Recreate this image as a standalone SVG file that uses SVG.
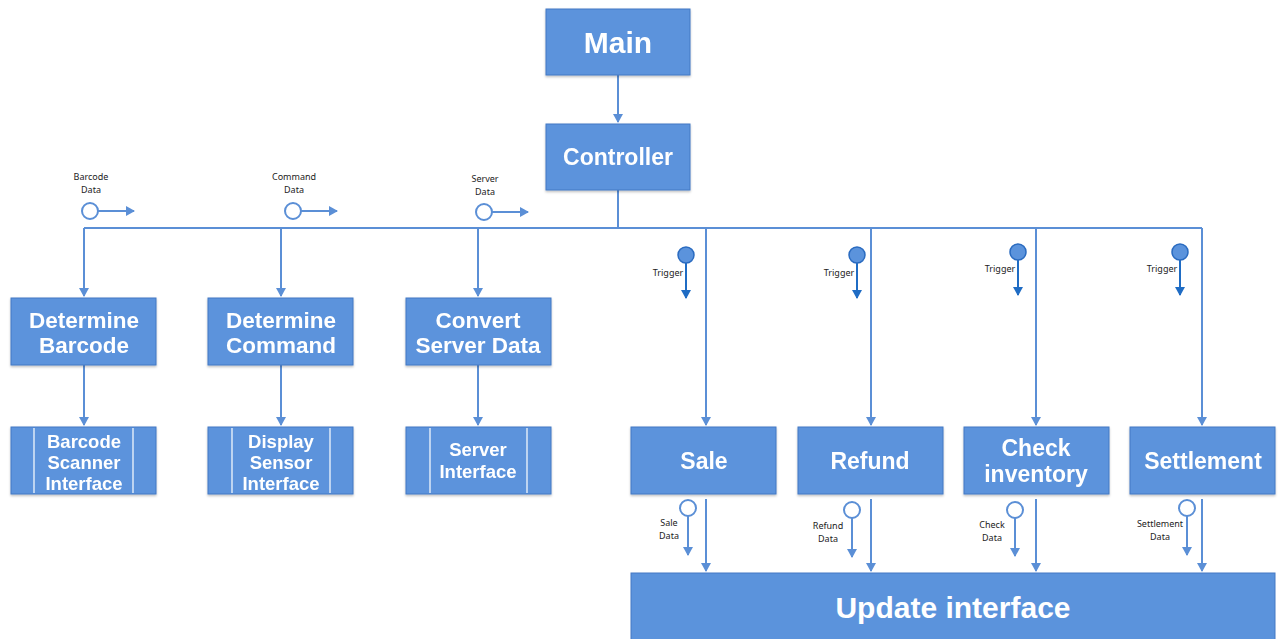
<svg xmlns="http://www.w3.org/2000/svg" width="1281" height="639" viewBox="0 0 1281 639">
<defs>
<style>
.box{fill:#5b93dc;stroke:#4579c4;stroke-width:1}
.t{fill:#fff;font-family:"Liberation Sans",Arial,sans-serif;font-weight:bold;text-anchor:middle}
.c{stroke:#5b8fd6;stroke-width:2;fill:none}
.d{stroke:#1f6cc4;stroke-width:2;fill:none}
.lbl{font-family:"Noto Sans","DejaVu Sans",sans-serif;font-size:9px;fill:#222;text-anchor:middle}
.oc{fill:#fff;stroke:#5b8fd6;stroke-width:2}
.fc{fill:#5b93dc;stroke:#2a6bc0;stroke-width:1.5}
.sep{stroke:#ffffff;stroke-width:1.2}
</style>
<marker id="a" markerWidth="10" markerHeight="10" refX="8" refY="5" orient="auto" markerUnits="userSpaceOnUse"><path d="M0,0 L9,5 L0,10 z" fill="#5b8fd6"/></marker>
<marker id="b" markerWidth="10" markerHeight="10" refX="8" refY="5" orient="auto" markerUnits="userSpaceOnUse"><path d="M0,0 L9,5 L0,10 z" fill="#1f6cc4"/></marker>
<filter id="sh" x="-5%" y="-5%" width="110%" height="115%"><feDropShadow dx="0" dy="1.5" stdDeviation="1" flood-color="#000" flood-opacity="0.25"/></filter>
</defs>

<g id="connectors">
<line class="c" x1="618" y1="75" x2="618" y2="122" marker-end="url(#a)"/>
<polyline class="c" points="618,190 618,228"/>
<line class="c" x1="84" y1="228" x2="1202" y2="228"/>
<line class="c" x1="84" y1="228" x2="84" y2="296" marker-end="url(#a)"/>
<line class="c" x1="281" y1="228" x2="281" y2="296" marker-end="url(#a)"/>
<line class="c" x1="478" y1="228" x2="478" y2="296" marker-end="url(#a)"/>
<line class="c" x1="706" y1="228" x2="706" y2="425" marker-end="url(#a)"/>
<line class="c" x1="871" y1="228" x2="871" y2="425" marker-end="url(#a)"/>
<line class="c" x1="1036" y1="228" x2="1036" y2="425" marker-end="url(#a)"/>
<line class="c" x1="1202" y1="228" x2="1202" y2="425" marker-end="url(#a)"/>
<line class="c" x1="84" y1="365" x2="84" y2="425" marker-end="url(#a)"/>
<line class="c" x1="281" y1="365" x2="281" y2="425" marker-end="url(#a)"/>
<line class="c" x1="478" y1="365" x2="478" y2="425" marker-end="url(#a)"/>
<line class="c" x1="706" y1="499" x2="706" y2="571" marker-end="url(#a)"/>
<line class="c" x1="871" y1="499" x2="871" y2="571" marker-end="url(#a)"/>
<line class="c" x1="1036" y1="499" x2="1036" y2="571" marker-end="url(#a)"/>
<line class="c" x1="1202" y1="499" x2="1202" y2="571" marker-end="url(#a)"/>
</g>

<g id="data-flows">
<line class="c" x1="98" y1="211" x2="134" y2="211" marker-end="url(#a)"/>
<circle class="oc" cx="90" cy="211" r="8"/>
<text class="lbl" x="91" y="180">Barcode</text><text class="lbl" x="91" y="193">Data</text>
<line class="c" x1="301" y1="211" x2="337" y2="211" marker-end="url(#a)"/>
<circle class="oc" cx="293" cy="211" r="8"/>
<text class="lbl" x="294" y="180">Command</text><text class="lbl" x="294" y="193">Data</text>
<line class="c" x1="492" y1="212" x2="528" y2="212" marker-end="url(#a)"/>
<circle class="oc" cx="484" cy="212" r="8"/>
<text class="lbl" x="485" y="182">Server</text><text class="lbl" x="485" y="195">Data</text>

<line class="d" x1="686" y1="263" x2="686" y2="298" marker-end="url(#b)"/>
<circle class="fc" cx="686" cy="255" r="8"/>
<text class="lbl" x="668" y="276">Trigger</text>
<line class="d" x1="857" y1="263" x2="857" y2="298" marker-end="url(#b)"/>
<circle class="fc" cx="857" cy="255" r="8"/>
<text class="lbl" x="839" y="276">Trigger</text>
<line class="d" x1="1018" y1="260" x2="1018" y2="295" marker-end="url(#b)"/>
<circle class="fc" cx="1018" cy="252" r="8"/>
<text class="lbl" x="1000" y="272">Trigger</text>
<line class="d" x1="1180" y1="260" x2="1180" y2="295" marker-end="url(#b)"/>
<circle class="fc" cx="1180" cy="252" r="8"/>
<text class="lbl" x="1162" y="272">Trigger</text>

<line class="c" x1="688" y1="516" x2="688" y2="555" marker-end="url(#a)"/>
<circle class="oc" cx="688" cy="508" r="8"/>
<text class="lbl" x="669" y="526">Sale</text><text class="lbl" x="669" y="539">Data</text>
<line class="c" x1="852" y1="518" x2="852" y2="557" marker-end="url(#a)"/>
<circle class="oc" cx="852" cy="510" r="8"/>
<text class="lbl" x="828" y="529">Refund</text><text class="lbl" x="828" y="542">Data</text>
<line class="c" x1="1015" y1="518" x2="1015" y2="556" marker-end="url(#a)"/>
<circle class="oc" cx="1015" cy="510" r="8"/>
<text class="lbl" x="992" y="528">Check</text><text class="lbl" x="992" y="541">Data</text>
<line class="c" x1="1187" y1="516" x2="1187" y2="555" marker-end="url(#a)"/>
<circle class="oc" cx="1187" cy="508" r="8"/>
<text class="lbl" x="1160" y="527">Settlement</text><text class="lbl" x="1160" y="540">Data</text>
</g>

<g id="main" filter="url(#sh)"><rect class="box" x="546" y="9" width="144" height="66"/><text class="t" x="618" y="53" font-size="30">Main</text></g>
<g id="controller" filter="url(#sh)"><rect class="box" x="546" y="124" width="144" height="66"/><text class="t" x="618" y="165" font-size="23">Controller</text></g>

<g id="determine-barcode" filter="url(#sh)"><rect class="box" x="11" y="298" width="145" height="67"/><text class="t" font-size="22.5"><tspan x="84" y="328">Determine</tspan><tspan x="84" y="353">Barcode</tspan></text></g>
<g id="determine-command" filter="url(#sh)"><rect class="box" x="208" y="298" width="145" height="67"/><text class="t" font-size="22.5"><tspan x="281" y="328">Determine</tspan><tspan x="281" y="353">Command</tspan></text></g>
<g id="convert-server-data" filter="url(#sh)"><rect class="box" x="406" y="298" width="145" height="67"/><text class="t" font-size="22.5"><tspan x="478" y="328">Convert</tspan><tspan x="478" y="353">Server Data</tspan></text></g>

<g id="barcode-scanner-interface" filter="url(#sh)"><rect class="box" x="11" y="427" width="145" height="67"/><line class="sep" x1="34" y1="428" x2="34" y2="493"/><line class="sep" x1="133" y1="428" x2="133" y2="493"/><text class="t" font-size="18.5"><tspan x="84" y="448">Barcode</tspan><tspan x="84" y="469">Scanner</tspan><tspan x="84" y="490">Interface</tspan></text></g>
<g id="display-sensor-interface" filter="url(#sh)"><rect class="box" x="208" y="427" width="145" height="67"/><line class="sep" x1="232" y1="428" x2="232" y2="493"/><line class="sep" x1="330" y1="428" x2="330" y2="493"/><text class="t" font-size="18.5"><tspan x="281" y="448">Display</tspan><tspan x="281" y="469">Sensor</tspan><tspan x="281" y="490">Interface</tspan></text></g>
<g id="server-interface" filter="url(#sh)"><rect class="box" x="406" y="427" width="145" height="67"/><line class="sep" x1="430" y1="428" x2="430" y2="493"/><line class="sep" x1="527" y1="428" x2="527" y2="493"/><text class="t" font-size="18.5"><tspan x="478" y="456">Server</tspan><tspan x="478" y="478">Interface</tspan></text></g>

<g id="sale" filter="url(#sh)"><rect class="box" x="631" y="427" width="145" height="67"/><text class="t" x="704" y="469" font-size="23">Sale</text></g>
<g id="refund" filter="url(#sh)"><rect class="box" x="798" y="427" width="145" height="67"/><text class="t" x="870" y="469" font-size="23">Refund</text></g>
<g id="check-inventory" filter="url(#sh)"><rect class="box" x="964" y="427" width="145" height="67"/><text class="t" font-size="23"><tspan x="1036" y="456">Check</tspan><tspan x="1036" y="482">inventory</tspan></text></g>
<g id="settlement" filter="url(#sh)"><rect class="box" x="1130" y="427" width="145" height="67"/><text class="t" x="1203" y="469" font-size="23">Settlement</text></g>

<g id="update-interface"><rect class="box" x="631" y="573" width="644" height="70"/><text class="t" x="953" y="618" font-size="30">Update interface</text></g>
</svg>
